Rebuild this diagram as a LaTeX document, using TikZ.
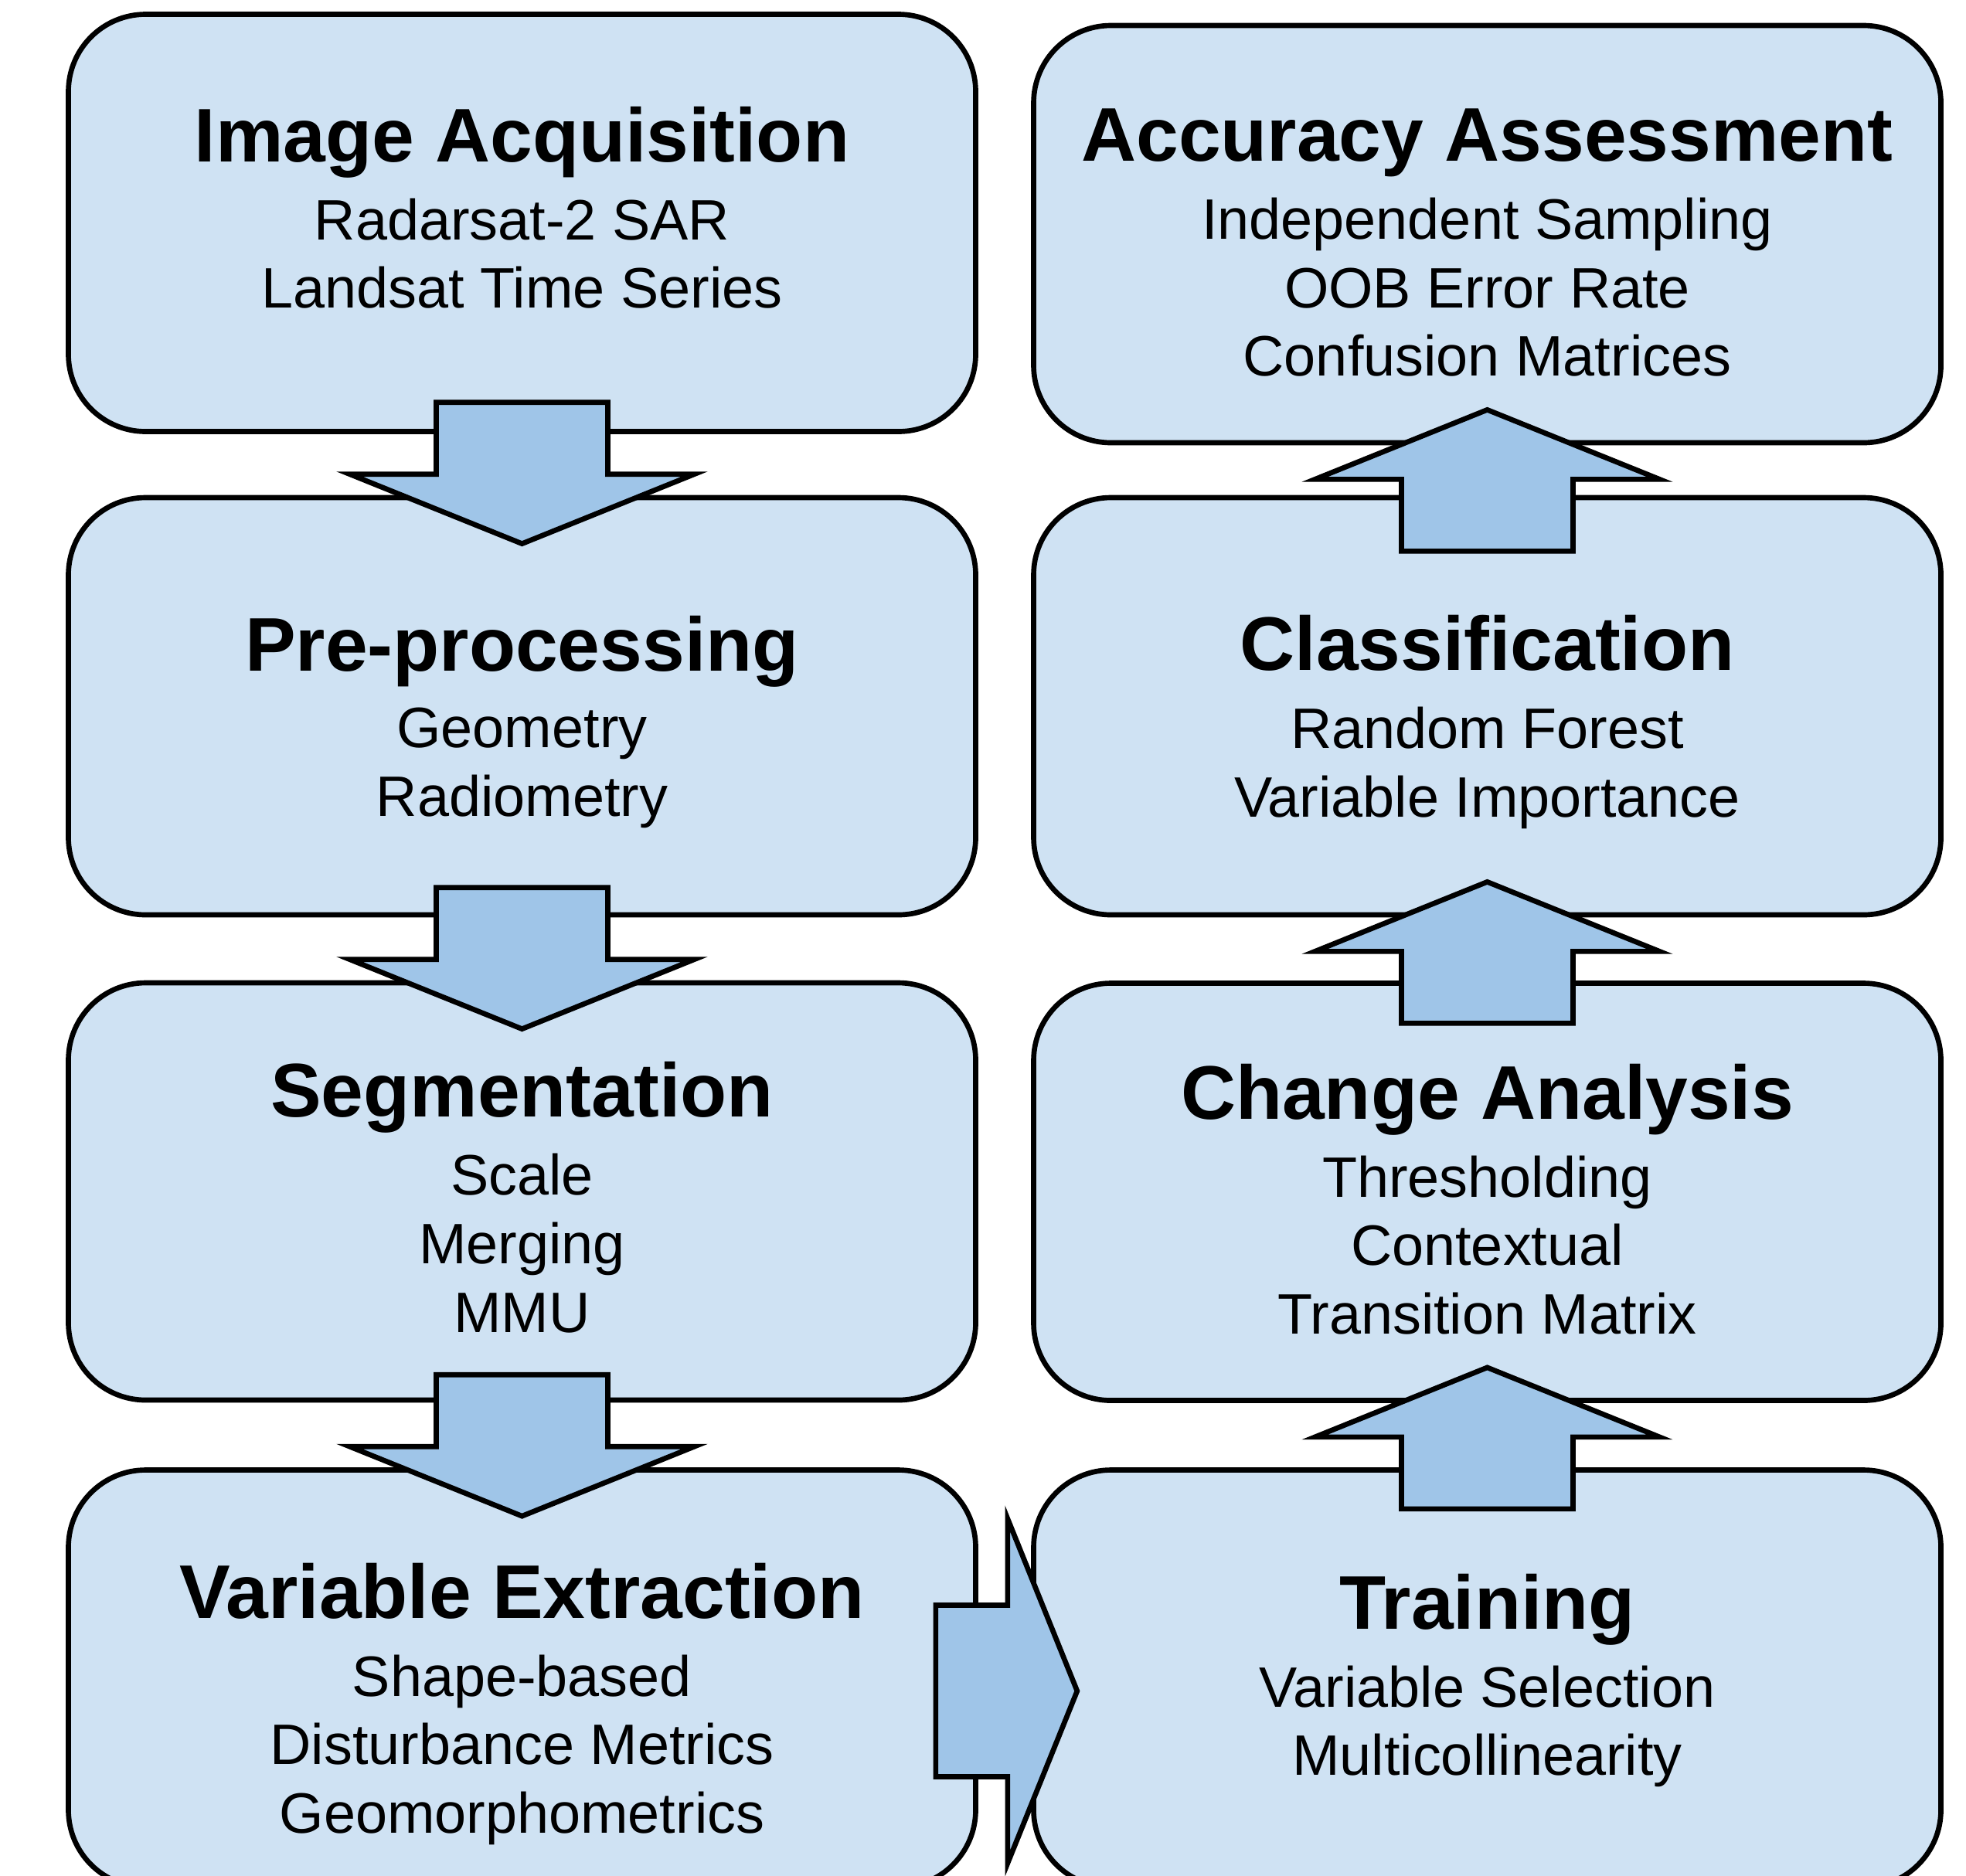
\documentclass[tikz,border=0pt]{standalone}
\usepackage{fontspec}
\setmainfont{Liberation Sans}
\usetikzlibrary{calc}

\definecolor{boxblue}{HTML}{CFE2F3}
\definecolor{arrowblue}{HTML}{9FC5E8}

\tikzset{
  stage/.style={draw=black,line width=1.9pt,fill=boxblue,rounded corners=1cm,
    minimum width=11.74cm,minimum height=5.4cm,inner sep=0pt},
  stagetitle/.style={anchor=base,inner sep=0pt,font=\fontsize{28}{33}\selectfont\bfseries},
  stageitems/.style={anchor=north,inner sep=0pt,align=center,font=\fontsize{21}{25.2}\selectfont},
  flow/.style={draw=black,line width=1.9pt,fill=arrowblue,line join=miter}
}

% block arrow: #1 = middle of the head's base, #2 = direction
\newcommand{\flowarrow}[2]{%
  \draw[flow,shift={#1},rotate=#2] (-0.93,-1.11) -- (0,-1.11) -- (0,-2.23) -- (0.9,0)
    -- (0,2.23) -- (0,1.11) -- (-0.93,1.11) -- cycle;}

\begin{document}
\begin{tikzpicture}[line cap=round,line join=round]
  \useasboundingbox (0,0) rectangle (25.44,-24.27);
  \clip (0,0) rectangle (25.44,-24.27);

  % left column
  \node[stage] (acq) at (6.755,-2.885) {};
  \node[stage] (pre) at (6.755,-9.14) {};
  \node[stage] (seg) at (6.755,-15.42) {};
  \node[stage] (vex) at (6.755,-21.725) {};
  % right column
  \node[stage] (acc) at (19.245,-3.03) {};
  \node[stage] (cls) at (19.245,-9.14) {};
  \node[stage] (chg) at (19.245,-15.425) {};
  \node[stage] (trn) at (19.245,-21.725) {};

  \node[stagetitle] (acqt) at ($(acq.north)+(0,-1.94)$) {Image Acquisition};
  \node[stageitems] at ($(acqt.base)+(0,-0.47)$) {Radarsat-2 SAR\\Landsat Time Series};

  \node[stagetitle] (pret) at ($(pre.north)+(0,-2.28)$) {Pre-processing};
  \node[stageitems] at ($(pret.base)+(0,-0.47)$) {Geometry\\Radiometry};

  \node[stagetitle] (segt) at ($(seg.north)+(0,-1.77)$) {Segmentation};
  \node[stageitems] at ($(segt.base)+(0,-0.47)$) {Scale\\Merging\\MMU};

  \node[stagetitle] (vext) at ($(vex.north)+(0,-1.95)$) {Variable Extraction};
  \node[stageitems] at ($(vext.base)+(0,-0.47)$) {Shape-based\\Disturbance Metrics\\Geomorphometrics};

  \node[stagetitle] (acct) at ($(acc.north)+(0,-1.79)$) {Accuracy Assessment};
  \node[stageitems] at ($(acct.base)+(0,-0.47)$) {Independent Sampling\\OOB Error Rate\\Confusion Matrices};

  \node[stagetitle] (clst) at ($(cls.north)+(0,-2.27)$) {Classification};
  \node[stageitems] at ($(clst.base)+(0,-0.47)$) {Random Forest\\Variable Importance};

  \node[stagetitle] (chgt) at ($(chg.north)+(0,-1.79)$) {Change Analysis};
  \node[stageitems] at ($(chgt.base)+(0,-0.47)$) {Thresholding\\Contextual\\Transition Matrix};

  \node[stagetitle] (trnt) at ($(trn.north)+(0,-2.09)$) {Training};
  \node[stageitems] at ($(trnt.base)+(0,-0.47)$) {Variable Selection\\Multicollinearity};

  % arrows down the left, across, then up the right
  \flowarrow{($(pre.north)+(0,0.27)$)}{-90}
  \flowarrow{($(seg.north)+(0,0.27)$)}{-90}
  \flowarrow{($(vex.north)+(0,0.27)$)}{-90}
  \flowarrow{($(vex.east)+(0.38,-0.16)$)}{0}
  \flowarrow{($(chg.south)+(0,-0.44)$)}{90}
  \flowarrow{($(cls.south)+(0,-0.44)$)}{90}
  \flowarrow{($(acc.south)+(0,-0.44)$)}{90}
\end{tikzpicture}
\end{document}
